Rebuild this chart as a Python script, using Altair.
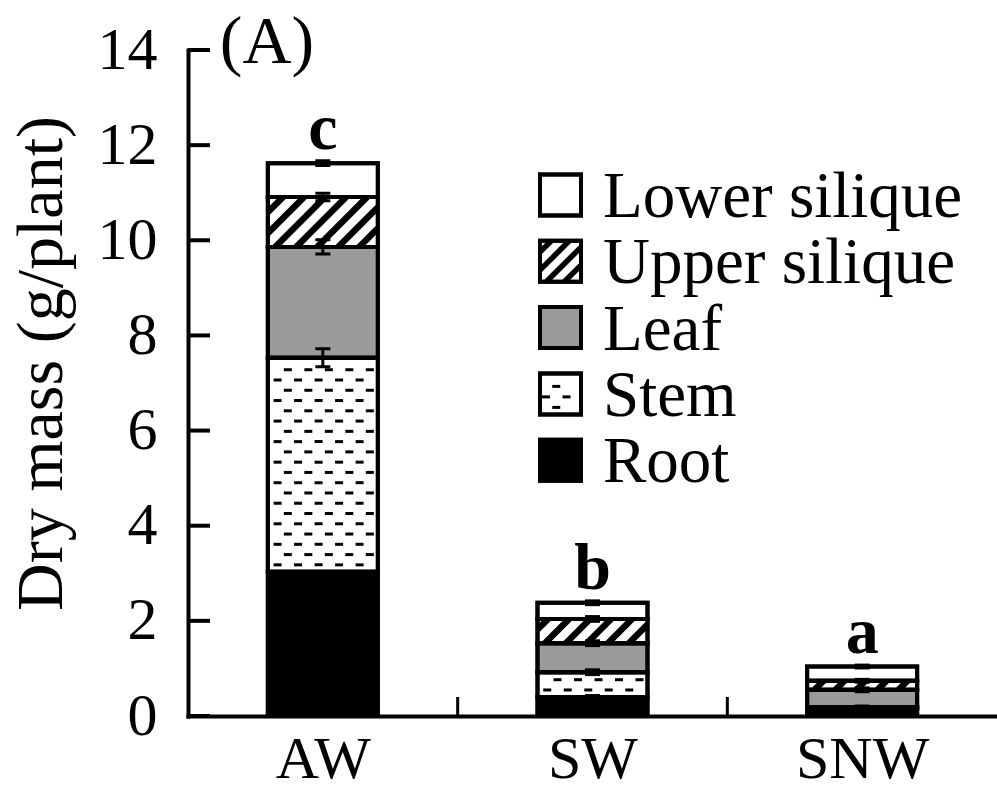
import json
import altair as alt
import pandas as pd

# ---------------- data ----------------
categories = ["AW", "SW", "SNW"]
parts = ["Root", "Stem", "Leaf", "Upper silique", "Lower silique"]
root = [3.03, 0.40, 0.16]
stem = [4.50, 0.52, 0.03]
leaf = [2.33, 0.61, 0.36]
upper = [1.05, 0.51, 0.19]
lower = [0.71, 0.34, 0.30]
root_err = [0.0, 0.03, 0.02]
stem_err = [0.19, 0.05, 0.02]
leaf_err = [0.15, 0.05, 0.04]
upper_err = [0.08, 0.05, 0.03]
lower_err = [0.05, 0.04, 0.03]
letters = ["c", "b", "a"]
y_ticks = [0, 2, 4, 6, 8, 10, 12, 14]
panel_label = "(A)"
y_title = "Dry mass (g/plant)"

# ---------------- layout / style ----------------
FONT = "Liberation Serif, Times New Roman, serif"
W, H = 809, 666
LEFT, TOP = 188, 50
XMAX, YMAX = 3, 14
PX = W / XMAX
PY = H / YMAX
HALF = 55 / PX  # bar half width (data units)
FILLS = {"Root": "#000000", "Stem": "#ffffff", "Leaf": "#9a9a9a",
         "Upper silique": "#ffffff", "Lower silique": "#ffffff"}
series = {"Root": root, "Stem": stem, "Leaf": leaf,
          "Upper silique": upper, "Lower silique": lower}
errs = {"Root": root_err, "Stem": stem_err, "Leaf": leaf_err,
        "Upper silique": upper_err, "Lower silique": lower_err}


def xd(px):
    return px / PX


def yd(py):
    return (H - py) / PY


def xp(x):
    return x * PX


def yp(y):
    return H - y * PY


xs = alt.Scale(domain=[0, XMAX], nice=False, zero=False)
ys = alt.Scale(domain=[0, YMAX], nice=False, zero=True)

label_expr = json.dumps(categories) + "[floor(datum.value)]"
x_axis = alt.Axis(values=[i + 0.5 for i in range(len(categories))], labelExpr=label_expr,
                  ticks=False, tickSize=0, grid=False, domainWidth=4, domainColor="black",
                  domainCap="square", labelFontSize=60, labelPadding=14, labelColor="black",
                  labelFont=FONT, title=None, labelFlush=False)
y_axis = alt.Axis(values=y_ticks, format="d", ticks=False, tickSize=0, grid=False,
                  domainWidth=4, domainColor="black", domainCap="square",
                  labelFontSize=60, labelPadding=31, labelColor="black", labelFont=FONT,
                  title=y_title, titleFont=FONT, titleFontSize=66, titleFontWeight="normal",
                  titleColor="black", titleX=-147, titleY=313, titleAngle=270,
                  titleAlign="center", titleBaseline="middle")


def X(f):
    return alt.X(f, scale=xs, axis=x_axis)


def Y(f):
    return alt.Y(f, scale=ys, axis=y_axis)


# ---------------- segments ----------------
rows = []
for i, cat in enumerate(categories):
    base = 0.0
    for p in parts:
        v = series[p][i]
        rows.append(dict(cat=cat, part=p, c=i + 0.5, x0=i + 0.5 - HALF, x1=i + 0.5 + HALF,
                         y0=base, y1=base + v, err=errs[p][i], fill=FILLS[p]))
        base += v
seg = pd.DataFrame(rows)
seg["elo"] = seg.y1 - seg.err
seg["ehi"] = seg.y1 + seg.err
err_seg = seg[seg.err > 0]

# legend rows (top to bottom)
leg_parts = list(reversed(parts))
LEG_CX = 372.5
LEG_HALF = 20.5
LEG_Y0 = 145
LEG_DY = 66.3
LEG_TX = 415
leg_rows = []
for k, p in enumerate(leg_parts):
    cy = LEG_Y0 + k * LEG_DY
    leg_rows.append(dict(part=p, x0=xd(LEG_CX - LEG_HALF), x1=xd(LEG_CX + LEG_HALF),
                         y0=yd(cy + LEG_HALF), y1=yd(cy - LEG_HALF), fill=FILLS[p],
                         tx=xd(LEG_TX), ty=yd(cy + 22), cy=cy))
leg = pd.DataFrame(leg_rows)

# ---------------- patterns ----------------
hatch_rows = []


def hatch(xl, xr, yt, yb, period, width):
    hh = yb - yt
    n = int(hh // period) + 2
    c = xl - n * period + period * 0.35
    while c < xr:
        h0 = max(0.0, xl - c)
        h1 = min(hh, xr - c)
        if h1 - h0 > 0.5:
            hatch_rows.append(dict(hx=xd(c + h0), hy=yd(yb - h0), hx2=xd(c + h1),
                                   hy2=yd(yb - h1), w=width))
        c += period


dash_rows = []


def dashes(cx, half, yt, yb, spacing=10.27, bottom_gap=7, top_gap=5):
    k = 0
    y = yb - bottom_gap
    while y >= yt + top_gap:
        phase = -4.25 if k % 2 == 0 else 6.0
        for j in range(-6, 7):
            dx = phase + j * 20.5
            if abs(dx) <= half - 6:
                dash_rows.append(dict(dxp=xd(cx + dx), dyp=yd(y)))
        y -= spacing
        k += 1


for r in rows:
    xl, xr = xp(r["x0"]), xp(r["x1"])
    yt, yb = yp(r["y1"]), yp(r["y0"])
    if r["part"] == "Upper silique":
        hatch(xl, xr, yt, yb, 21, 6.5)
    if r["part"] == "Stem":
        dashes(xp(r["c"]), 55, yt, yb)

for r in leg_rows:
    cy = r["cy"]
    if r["part"] == "Upper silique":
        hatch(LEG_CX - LEG_HALF, LEG_CX + LEG_HALF, cy - LEG_HALF, cy + LEG_HALF, 18, 5.5)
    if r["part"] == "Stem":
        dashes(LEG_CX, LEG_HALF, cy - LEG_HALF, cy + LEG_HALF, spacing=10.5, top_gap=3)

hatch_df = pd.DataFrame(hatch_rows)
dash_df = pd.DataFrame(dash_rows)

# error caps
caps = pd.concat([err_seg[["c", "elo"]].rename(columns={"elo": "v"}),
                  err_seg[["c", "ehi"]].rename(columns={"ehi": "v"})])

totals = pd.DataFrame({
    "c": [i + 0.5 for i in range(len(categories))],
    "t": [sum(series[p][i] for p in parts) + lower_err[i] for i in range(len(categories))],
    "lab": letters,
})

# ---------------- layers ----------------
fills = alt.Chart(seg).mark_rect(stroke="black", strokeWidth=4).encode(
    x=X("x0:Q"), x2="x1:Q", y=Y("y0:Q"), y2="y1:Q",
    fill=alt.Fill("fill:N", scale=None),
)

leg_fills = alt.Chart(leg).mark_rect(stroke="black", strokeWidth=4).encode(
    x=X("x0:Q"), x2="x1:Q", y=Y("y0:Q"), y2="y1:Q",
    fill=alt.Fill("fill:N", scale=None),
)

hatch_layer = alt.Chart(hatch_df).mark_rule(color="black", strokeCap="butt").encode(
    x=X("hx:Q"), x2="hx2:Q", y=Y("hy:Q"), y2="hy2:Q",
    strokeWidth=alt.StrokeWidth("w:Q", scale=None),
)

dash_layer = alt.Chart(dash_df).mark_tick(orient="horizontal", size=8, thickness=3,
                                          color="black", opacity=1).encode(
    x=X("dxp:Q"), y=Y("dyp:Q"),
)

outlines = alt.Chart(seg).mark_rect(stroke="black", strokeWidth=4, fillOpacity=0).encode(
    x=X("x0:Q"), x2="x1:Q", y=Y("y0:Q"), y2="y1:Q",
)

leg_outlines = alt.Chart(leg).mark_rect(stroke="black", strokeWidth=4, fillOpacity=0).encode(
    x=X("x0:Q"), x2="x1:Q", y=Y("y0:Q"), y2="y1:Q",
)

leg_text = alt.Chart(leg).mark_text(align="left", baseline="alphabetic", fontSize=65,
                                    font=FONT, color="black").encode(
    x=X("tx:Q"), y=Y("ty:Q"), text="part:N",
)

err_rules = alt.Chart(err_seg).mark_rule(color="black", strokeWidth=3).encode(
    x=X("c:Q"), y=Y("elo:Q"), y2="ehi:Q",
)

err_caps = alt.Chart(caps).mark_tick(orient="horizontal", size=15, thickness=3,
                                     color="black", opacity=1).encode(
    x=X("c:Q"), y=Y("v:Q"),
)

letter_text = alt.Chart(totals).mark_text(baseline="alphabetic", align="center", dy=-12,
                                          fontSize=66, fontWeight="bold", font=FONT,
                                          color="black").encode(
    x=X("c:Q"), y=Y("t:Q"), text="lab:N",
)

y_tick_layer = alt.Chart(pd.DataFrame({"v": y_ticks})).mark_rule(
    color="black", strokeWidth=4).encode(
    y=Y("v:Q"), x=alt.value(0), x2=alt.value(22),
)

x_tick_layer = alt.Chart(pd.DataFrame({"b": list(range(1, len(categories)))})).mark_rule(
    color="black", strokeWidth=3).encode(
    x=X("b:Q"), y=alt.value(H), y2=alt.value(H - 19),
)

panel = alt.Chart(pd.DataFrame({"t": [panel_label]})).mark_text(
    fontSize=68, baseline="alphabetic", align="center", font=FONT, color="black").encode(
    text="t:N", x=alt.value(79), y=alt.value(13),
)

chart = alt.layer(
    fills, leg_fills, hatch_layer, dash_layer, outlines, leg_outlines, leg_text,
    err_rules, err_caps, letter_text,
    y_tick_layer, x_tick_layer, panel,
).properties(
    width=W, height=H,
    padding={"left": LEFT, "top": TOP, "right": 0, "bottom": 797 - TOP - H},
    autosize=alt.AutoSizeParams(type="none"),
    background="white",
).configure(font=FONT, view=alt.ViewConfig(stroke=None))

chart.save("out.html", embed_options={"renderer": "svg", "actions": False})
